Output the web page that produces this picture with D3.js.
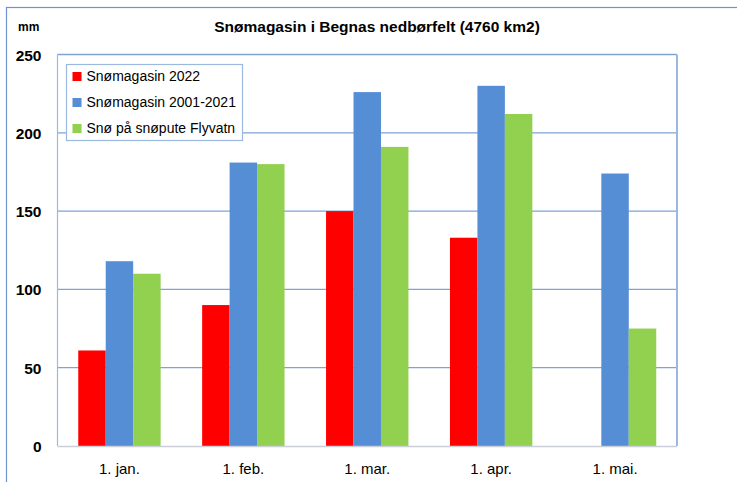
<!DOCTYPE html>
<html>
<head>
<meta charset="utf-8">
<script src="https://cdn.jsdelivr.net/npm/d3@7"></script>
<style>
  html, body { margin: 0; padding: 0; background: #fff; }
  svg { display: block; font-family: "Liberation Sans", Arial, sans-serif; }
</style>
</head>
<body>
<svg id="chart" width="737" height="482"></svg>
<script>
const categories = ["1. jan.", "1. feb.", "1. mar.", "1. apr.", "1. mai."];
const seriesNames = ["Snømagasin 2022", "Snømagasin 2001-2021", "Snø på snøpute Flyvatn"];
const snow2022 = [61, 90, 150, 133, null];
const snow2001_2021 = [118, 181, 226, 230, 174];
const snowFlyvatn = [110, 180, 191, 212, 75];
const yTicks = [0, 50, 100, 150, 200, 250];
const colors = ["#FF0000", "#558ED5", "#92D050"];
const title = "Snømagasin i Begnas nedbørfelt (4760 km2)";
const unit = "mm";

const series = [snow2022, snow2001_2021, snowFlyvatn];

const svg = d3.select("#chart");
const plot = { left: 57.5, right: 677, top: 54.5, bottom: 446 };

// outer frame
svg.append("rect")
  .attr("x", 6.5).attr("y", 7.5).attr("width", 740).attr("height", 490)
  .attr("fill", "none").attr("stroke", "#6D95CC").attr("stroke-width", 1.2);

const x0 = d3.scaleBand().domain(categories)
  .range([plot.left, plot.right]).paddingInner(0.335).paddingOuter(0.1675);
const x1 = d3.scaleBand().domain(d3.range(series.length))
  .range([0, x0.bandwidth()]);
const y = d3.scaleLinear().domain([0, 250]).range([plot.bottom, plot.top]);

// gridlines
svg.append("g").selectAll("line").data(yTicks.filter(d => d > 0)).join("line")
  .attr("x1", plot.left).attr("x2", plot.right)
  .attr("y1", d => y(d)).attr("y2", d => y(d))
  .attr("stroke", "#7FA3D6").attr("stroke-width", 1.3);

// plot frame
svg.append("line").attr("x1", plot.left).attr("x2", plot.left)
  .attr("y1", plot.top).attr("y2", plot.bottom)
  .attr("stroke", "#9DB8DF").attr("stroke-width", 1.2);
svg.append("line").attr("x1", plot.right).attr("x2", plot.right)
  .attr("y1", plot.top).attr("y2", plot.bottom)
  .attr("stroke", "#9DB8DF").attr("stroke-width", 2);

// bars
const groups = svg.append("g").selectAll("g").data(categories).join("g")
  .attr("transform", d => `translate(${x0(d)},0)`);
groups.selectAll("rect")
  .data((c, i) => series.map((s, k) => ({ k, v: s[i] })).filter(d => d.v != null))
  .join("rect")
  .attr("x", d => x1(d.k))
  .attr("width", x1.bandwidth())
  .attr("y", d => y(d.v))
  .attr("height", d => y(0) - y(d.v))
  .attr("fill", d => colors[d.k]);

// bottom axis line
svg.append("line").attr("x1", plot.left).attr("x2", plot.right)
  .attr("y1", plot.bottom + 0.5).attr("y2", plot.bottom + 0.5)
  .attr("stroke", "#C9CED9").attr("stroke-width", 1.5);

// y axis labels
const yAxis = d3.axisLeft(y).tickValues(yTicks).tickSize(0).tickPadding(0);
const gy = svg.append("g").attr("transform", "translate(41.5,0)").call(yAxis);
gy.select(".domain").remove();
gy.selectAll("text").attr("font-size", 15.5).attr("font-weight", "bold")
  .attr("fill", "#000").attr("font-family", "Liberation Sans, Arial, sans-serif")
  .attr("dy", "0.36em");

// x axis labels
const xAxis = d3.axisBottom(x0).tickSize(0).tickPadding(0);
const gx = svg.append("g").attr("transform", `translate(0,${plot.bottom})`).call(xAxis);
gx.select(".domain").remove();
gx.selectAll("text").attr("font-size", 15).attr("fill", "#000")
  .attr("font-family", "Liberation Sans, Arial, sans-serif")
  .attr("dy", null).attr("y", 28);

// title and unit
svg.append("text").attr("x", 377).attr("y", 32).attr("text-anchor", "middle")
  .attr("font-size", 15.5).attr("font-weight", "bold").text(title);
svg.append("text").attr("x", 18).attr("y", 31)
  .attr("font-size", 12).attr("font-weight", "bold").text(unit);

// legend
const lg = svg.append("g");
lg.append("rect").attr("x", 66.5).attr("y", 64.5).attr("width", 176).attr("height", 76)
  .attr("fill", "#fff").attr("stroke", "#9DB8DF").attr("stroke-width", 1.2);
const items = lg.selectAll("g.item").data(seriesNames).join("g")
  .attr("transform", (d, i) => `translate(0,${81 + i * 26})`);
items.append("rect").attr("x", 72.5).attr("y", -9).attr("width", 9).attr("height", 9)
  .attr("fill", (d, i) => colors[i]);
items.append("text").attr("x", 86.5).attr("y", 0).attr("font-size", 14)
  .attr("fill", "#000").text(d => d);
</script>
</body>
</html>
